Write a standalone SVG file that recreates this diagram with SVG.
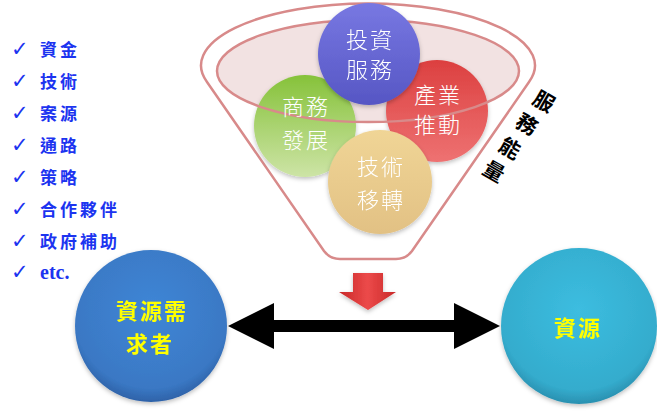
<svg xmlns="http://www.w3.org/2000/svg" width="657" height="412" viewBox="0 0 657 412">
<defs>
<linearGradient id="gPurple" x1="0" y1="0" x2="0" y2="1"><stop offset="0" stop-color="#7878e2"/><stop offset="1" stop-color="#5656c4"/></linearGradient>
<linearGradient id="gGreen" x1="0" y1="0" x2="0" y2="1"><stop offset="0" stop-color="#86c23a"/><stop offset="1" stop-color="#cde4a6"/></linearGradient>
<linearGradient id="gRed" x1="0" y1="0" x2="0" y2="1"><stop offset="0" stop-color="#dc4040"/><stop offset="1" stop-color="#ee7272"/></linearGradient>
<linearGradient id="gTan" x1="0" y1="0" x2="0" y2="1"><stop offset="0" stop-color="#f0d596"/><stop offset="1" stop-color="#e2c184"/></linearGradient>
<radialGradient id="gBlue" cx="0.5" cy="0.4" r="0.6"><stop offset="0" stop-color="#3f86d6"/><stop offset="0.85" stop-color="#3a78c4"/><stop offset="1" stop-color="#2e62a8"/></radialGradient>
<radialGradient id="gCyan" cx="0.5" cy="0.4" r="0.6"><stop offset="0" stop-color="#3cbde0"/><stop offset="0.85" stop-color="#34accd"/><stop offset="1" stop-color="#2a90b0"/></radialGradient>
<linearGradient id="gArrow" x1="0" y1="0" x2="1" y2="0"><stop offset="0" stop-color="#c82828"/><stop offset="0.5" stop-color="#ec4a4a"/><stop offset="1" stop-color="#c82828"/></linearGradient>
<filter id="sh" x="-20%" y="-20%" width="140%" height="140%"><feDropShadow dx="0" dy="2" stdDeviation="2" flood-color="#000" flood-opacity="0.25"/></filter>
</defs>
<style>
.list{font-family:"Noto Sans CJK TC","Noto Sans CJK SC",sans-serif;font-weight:bold;font-size:17px;fill:#1c34f0;letter-spacing:3px}
.chk{font-family:"DejaVu Sans",sans-serif;font-size:21px;fill:#1c34f0;font-weight:bold}
.ctext{font-family:"Noto Sans CJK TC","Noto Sans CJK SC",sans-serif;font-weight:300;font-size:22px;fill:#ffffff;text-anchor:middle;letter-spacing:2px}
.ytext{font-family:"Noto Sans CJK TC","Noto Sans CJK SC",sans-serif;font-weight:bold;font-size:22px;fill:#ffff00;text-anchor:middle;letter-spacing:2px}
.vert{font-family:"Noto Sans CJK TC","Noto Sans CJK SC",sans-serif;font-weight:bold;font-size:21px;fill:#000000;text-anchor:middle}
.funnel{fill:#ffffff;stroke:#d88a8a;stroke-width:2.5}
</style>

<g id="list">
<text class="chk" x="11" y="56">✓</text><text class="list" x="40" y="56">資金</text>
<text class="chk" x="11" y="88">✓</text><text class="list" x="40" y="88">技術</text>
<text class="chk" x="11" y="120">✓</text><text class="list" x="40" y="120">案源</text>
<text class="chk" x="11" y="152">✓</text><text class="list" x="40" y="152">通路</text>
<text class="chk" x="11" y="184">✓</text><text class="list" x="40" y="184">策略</text>
<text class="chk" x="11" y="216">✓</text><text class="list" x="40" y="216">合作夥伴</text>
<text class="chk" x="11" y="248">✓</text><text class="list" x="40" y="248">政府補助</text>
<text class="chk" x="11" y="279">✓</text><text x="40" y="279" style="font-family:'Liberation Serif',serif;font-weight:bold;font-size:20px;fill:#1c34f0">etc.</text>
</g>

<g id="funnel">
<path class="funnel" d="M207,82 A167 62 0 1 1 529,82 L412,251 Q406,259 396,259 L340,259 Q330,259 324,251 Z"/>
<ellipse cx="368" cy="71" rx="151" ry="51" fill="#f2e2e2" stroke="none"/>
</g>

<g id="n-shangwu" filter="url(#sh)">
<circle cx="305" cy="126" r="51" fill="url(#gGreen)"/>
</g>
<g id="n-chanye" filter="url(#sh)">
<circle cx="437" cy="111" r="51" fill="url(#gRed)"/>
</g>
<g id="funnel-rim">
<ellipse cx="368" cy="71" rx="151" ry="51" fill="none" stroke="#d88a8a" stroke-width="2.5"/>
</g>
<g id="n-touzi" filter="url(#sh)">
<circle cx="369" cy="54" r="51" fill="url(#gPurple)"/>
<text class="ctext" x="370" y="48">投資<tspan x="370" dy="30">服務</tspan></text>
</g>
<g id="n-shangwu-text">
<text class="ctext" x="306" y="115">商務<tspan x="306" dy="33">發展</tspan></text>
</g>
<g id="n-chanye-text">
<text class="ctext" x="438" y="103">產業<tspan x="438" dy="30">推動</tspan></text>
</g>
<g id="n-jishu" filter="url(#sh)">
<circle cx="380" cy="182" r="52" fill="url(#gTan)"/>
<text class="ctext" x="381" y="175">技術<tspan x="381" dy="33">移轉</tspan></text>
</g>

<g id="label-nengliang">
<text class="vert" transform="translate(540,108) rotate(30)">服</text>
<text class="vert" transform="translate(523,131) rotate(30)">務</text>
<text class="vert" transform="translate(506,155) rotate(30)">能</text>
<text class="vert" transform="translate(490,178) rotate(30)">量</text>
</g>

<g id="connectors">
<path d="M353,273 L383,273 L383,292 L396,292 L368,310 L339,292 L353,292 Z" fill="url(#gArrow)" filter="url(#sh)"/>
<path d="M228,326 L274,303 L274,320 L454,320 L454,303 L500,326 L454,349 L454,332 L274,332 L274,349 Z" fill="#000000"/>
</g>

<g id="n-demand" filter="url(#sh)">
<circle cx="151" cy="326" r="76" fill="url(#gBlue)"/>
<text class="ytext" x="152" y="319">資源需<tspan x="150" dy="33">求者</tspan></text>
</g>

<g id="n-resource" filter="url(#sh)">
<circle cx="579" cy="326" r="78" fill="url(#gCyan)"/>
<text class="ytext" x="578" y="336">資源</text>
</g>
</svg>
